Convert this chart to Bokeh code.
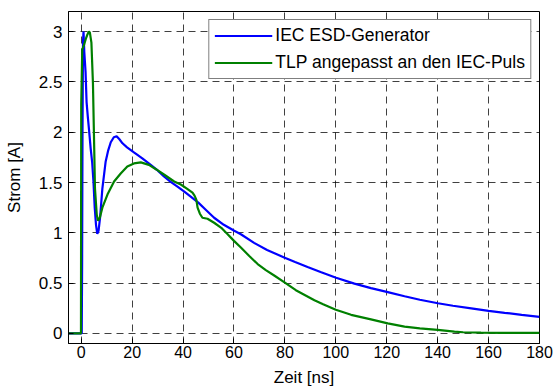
from bokeh.plotting import figure
from bokeh.models import (FixedTicker, CustomJSTickFormatter, Legend,
                          LegendItem, Range1d)
from bokeh.embed import file_html
from bokeh.resources import INLINE

# IEC ESD generator current (time in ns, current in A)
iec_t = [-5, 0.2, 0.35, 0.5, 0.7, 0.9, 1.2, 1.7, 2.1, 2.6, 3.0, 3.7, 4.3, 4.8,
         5.3, 5.8, 6.3, 6.8, 7.4, 8.3, 9.6, 10.6, 11.6, 12.8, 13.9, 15.0, 16.2,
         18.0, 20.7, 24.0, 27.3, 30.0, 32.5, 35.0, 37.8, 40.5, 43.0, 46.0, 48.9,
         52.2, 56.0, 60.1, 62.7, 67.9, 73.0, 79.7, 84.0, 88.9, 94.0, 100.1,
         107.3, 113.8, 120.4, 127.0, 133.0, 140.1, 146.0, 153.2, 160.0, 166.3,
         173.0, 180.0]
iec_i = [0, 0, 0.7, 2.0, 2.9, 3.0, 2.8, 2.6, 2.3, 2.15, 2.04, 1.84, 1.7, 1.51,
         1.25, 1.08, 0.99, 1.02, 1.15, 1.44, 1.71, 1.82, 1.90, 1.95, 1.96, 1.93,
         1.89, 1.85, 1.80, 1.74, 1.675, 1.62, 1.56, 1.51, 1.46, 1.41, 1.36, 1.30,
         1.23, 1.15, 1.08, 1.02, 0.986, 0.90, 0.83, 0.755, 0.71, 0.66, 0.61,
         0.553, 0.495, 0.45, 0.41, 0.37, 0.335, 0.30, 0.275, 0.25, 0.225, 0.205,
         0.185, 0.165]

# TLP pulse adapted to the IEC waveform
tlp_t = [-5, -0.1, 0.0, 0.4, 1.0, 1.7, 2.4, 3.0, 3.4, 4.0, 4.6, 5.0, 5.4, 6.1,
         6.6, 7.3, 8.3, 10.3, 12.9, 15.5, 18.1, 20.7, 23.4, 26.6, 29.5, 32.5,
         36.5, 39.1, 41.5, 43.7, 44.5, 45.2, 45.7, 46.6, 47.6, 49.6, 52.2, 55.0,
         57.5, 60.0, 62.7, 66.0, 69.3, 72.5, 75.8, 79.7, 84.3, 91.6, 95.0, 100.0,
         106.0, 113.8, 120.4, 127.0, 133.0, 140.0, 146.6, 150.0, 157.0, 165.0,
         180.0]
tlp_i = [0, 0, 2.28, 2.82, 2.86, 2.92, 2.97, 3.0, 2.99, 2.89, 2.49, 1.97, 1.44,
         1.18, 1.12, 1.15, 1.25, 1.38, 1.51, 1.59, 1.66, 1.69, 1.70, 1.675, 1.63,
         1.58, 1.51, 1.48, 1.44, 1.40, 1.37, 1.33, 1.25, 1.19, 1.15, 1.14, 1.10,
         1.05, 0.986, 0.92, 0.854, 0.77, 0.69, 0.63, 0.576, 0.51, 0.43, 0.33,
         0.29, 0.235, 0.185, 0.14, 0.10, 0.067, 0.05, 0.035, 0.018, 0.012, 0.008,
         0.005, 0.005]

x_ticks = [0, 20, 40, 60, 80, 100, 120, 140, 160, 180]
y_ticks = [0, 0.5, 1, 1.5, 2, 2.5, 3]

series_labels = ["IEC ESD-Generator", "TLP angepasst an den IEC-Puls"]
x_label = "Zeit [ns]"
y_label = "Strom [A]"

FONT = "Liberation Sans"
TICK_FS = "16px"
YTICK_FS = "17px"
LABEL_FS = "17px"
LEGEND_FS = "17.5px"

p = figure(width=555, height=391, output_backend="svg", toolbar_location=None,
           x_range=Range1d(-5, 180), y_range=Range1d(-0.1, 3.2),
           min_border_left=68, min_border_right=16, min_border_top=11,
           min_border_bottom=48, background_fill_color="white",
           border_fill_color="white", x_axis_label=x_label,
           y_axis_label=y_label)

fmt = CustomJSTickFormatter(code="return String(tick)")

p.xaxis.ticker = FixedTicker(ticks=x_ticks)
p.yaxis.ticker = FixedTicker(ticks=y_ticks)
for ax in (p.xaxis, p.yaxis):
    ax.formatter = fmt
    ax.axis_line_color = "black"
    ax.axis_line_width = 1
    ax.major_tick_in = 5
    ax.major_tick_out = 0
    ax.major_tick_line_color = "black"
    ax.minor_tick_line_color = None
    ax.major_label_text_font = FONT
    ax.major_label_text_font_size = TICK_FS
    ax.major_label_text_color = "black"
    ax.axis_label_text_font = FONT
    ax.axis_label_text_font_size = LABEL_FS
    ax.axis_label_text_font_style = "normal"
    ax.axis_label_text_color = "black"
p.xaxis.major_label_standoff = 2
p.xaxis.axis_label_standoff = 7
p.yaxis.major_label_text_font_size = YTICK_FS
p.yaxis.major_label_standoff = 6
p.yaxis.axis_label_standoff = 12

p.xgrid.ticker = FixedTicker(ticks=x_ticks)
p.ygrid.ticker = FixedTicker(ticks=y_ticks)
for g in (p.xgrid, p.ygrid):
    g.grid_line_color = "black"
    g.grid_line_alpha = 0.75
    g.grid_line_dash = "7 5"
    g.grid_line_width = 1

p.outline_line_color = "black"
p.outline_line_width = 1

r_iec = p.line(iec_t, iec_i, line_color="#0000FF", line_width=2.2)
r_tlp = p.line(tlp_t, tlp_i, line_color="#008000", line_width=2.2)

legend = Legend(items=[LegendItem(label=series_labels[0], renderers=[r_iec]),
                       LegendItem(label=series_labels[1], renderers=[r_tlp])],
                location="top_right")
legend.label_text_font = FONT
legend.label_text_font_size = LEGEND_FS
legend.label_text_color = "black"
legend.border_line_color = "black"
legend.border_line_width = 1
legend.background_fill_color = "white"
legend.background_fill_alpha = 1.0
legend.padding = 5
legend.spacing = 6
legend.glyph_height = 17
legend.label_height = 17
legend.glyph_width = 58
legend.label_standoff = 3
legend.margin = 8
p.add_layout(legend, "center")

open("out.html", "w").write(file_html(p, INLINE))
